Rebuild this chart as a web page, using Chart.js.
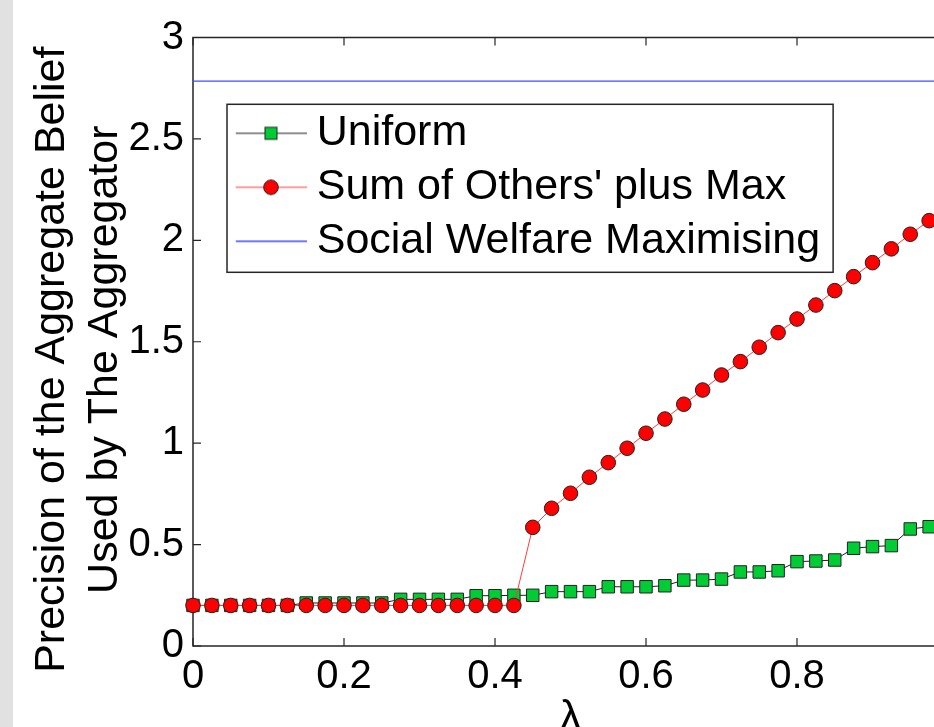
<!DOCTYPE html>
<html>
<head>
<meta charset="utf-8">
<script src="https://cdn.jsdelivr.net/npm/chart.js@4.4.1/dist/chart.umd.min.js"></script>
<style>
html,body{margin:0;padding:0;width:934px;height:727px;overflow:hidden;background:#fff;}
#strip{position:absolute;left:0;top:0;width:13px;height:727px;background:#e1e1e1;}
#wrap{position:absolute;left:13px;top:0;width:947px;height:760px;}
</style>
</head>
<body>
<div id="strip"></div>
<div id="wrap"><canvas id="c" width="947" height="760"></canvas></div>
<script>
// ---------- data ----------
const lambdaValues = [0, 0.025, 0.05, 0.075, 0.1, 0.125, 0.15, 0.175, 0.2, 0.225,
  0.25, 0.275, 0.3, 0.325, 0.35, 0.375, 0.4, 0.425, 0.45, 0.475,
  0.5, 0.525, 0.55, 0.575, 0.6, 0.625, 0.65, 0.675, 0.7, 0.725,
  0.75, 0.775, 0.8, 0.825, 0.85, 0.875, 0.9, 0.925, 0.95, 0.975, 1];
const uniformValues = [0.2, 0.2, 0.2, 0.2, 0.2, 0.2, 0.212, 0.212, 0.212, 0.212,
  0.212, 0.23, 0.23, 0.23, 0.23, 0.248, 0.248, 0.25, 0.25, 0.268,
  0.268, 0.268, 0.292, 0.292, 0.292, 0.297, 0.325, 0.325, 0.33, 0.365,
  0.365, 0.371, 0.416, 0.419, 0.424, 0.482, 0.49, 0.495, 0.577, 0.588, 0.6];
const sumOthersMaxValues = [0.2, 0.2, 0.2, 0.2, 0.2, 0.2, 0.2, 0.2, 0.2, 0.2,
  0.2, 0.2, 0.2, 0.2, 0.2, 0.2, 0.2, 0.2, 0.585, 0.679,
  0.753, 0.832, 0.904, 0.975, 1.049, 1.119, 1.192, 1.262, 1.336, 1.402,
  1.473, 1.545, 1.612, 1.681, 1.752, 1.821, 1.89, 1.958, 2.03, 2.097, 2.165];
const socialWelfareX = [0, 1];
const socialWelfareValues = [2.785, 2.785];
const seriesNames = ['Uniform', "Sum of Others' plus Max", 'Social Welfare Maximising'];
const xTickValues = [0, 0.2, 0.4, 0.6, 0.8, 1];
const xTickLabels = ['0', '0.2', '0.4', '0.6', '0.8', '1'];
const yTickValues = [0, 0.5, 1, 1.5, 2, 2.5, 3];
const yTickLabels = ['0', '0.5', '1', '1.5', '2', '2.5', '3'];
const yTitleLines = ['Precision of the Aggregate Belief', 'Used by The Aggregator'];
const xTitle = 'λ';

// ---------- styles ----------
const FONT = "'Liberation Sans', Arial, Helvetica, sans-serif";
const AXIS_COLOR = '#262626';
const GREEN = '#00cc33', RED = '#ff0000', BLUE = '#3f4dff';
const UNI_LINE = '#1e1e1e', SUM_LINE = '#ff3b3b', MARK_EDGE = '#222222';

Chart.defaults.font.family = FONT;
Chart.defaults.color = '#000';

function makeIcon(kind) {
  const c = document.createElement('canvas');
  c.width = 72; c.height = 20;
  const g = c.getContext('2d');
  g.lineWidth = kind === 'sw' ? 1.3 : 1.1;
  g.strokeStyle = kind === 'uni' ? UNI_LINE : (kind === 'sum' ? SUM_LINE : BLUE);
  g.beginPath(); g.moveTo(0, 10); g.lineTo(72, 10); g.stroke();
  if (kind === 'uni') {
    g.fillStyle = GREEN; g.strokeStyle = MARK_EDGE; g.lineWidth = 1;
    g.fillRect(30, 4, 12, 12); g.strokeRect(30, 4, 12, 12);
  } else if (kind === 'sum') {
    g.fillStyle = RED; g.strokeStyle = MARK_EDGE; g.lineWidth = 1;
    g.beginPath(); g.arc(36, 10, 7.3, 0, Math.PI * 2); g.fill(); g.stroke();
  }
  return c;
}
const legendIcons = [makeIcon('uni'), makeIcon('sum'), makeIcon('sw')];

const LEG_PAD = 11, LEG_FONT = 43, LEG_BOXW = 48.4;

const boxPlugin = {
  id: 'matlabBox',
  beforeDatasetsDraw(chart) {
    const {ctx, chartArea: a, scales: {x, y}} = chart;
    ctx.save();
    ctx.strokeStyle = AXIS_COLOR;
    ctx.lineWidth = 1.2;
    const tl = 8;
    ctx.beginPath();
    x.ticks.forEach(t => {
      const px = x.getPixelForValue(t.value);
      ctx.moveTo(px, a.bottom); ctx.lineTo(px, a.bottom - tl);
      ctx.moveTo(px, a.top); ctx.lineTo(px, a.top + tl);
    });
    y.ticks.forEach(t => {
      const py = y.getPixelForValue(t.value);
      ctx.moveTo(a.left, py); ctx.lineTo(a.left + tl, py);
      ctx.moveTo(a.right, py); ctx.lineTo(a.right - tl, py);
    });
    ctx.stroke();
    ctx.lineWidth = 1.5;
    ctx.strokeRect(a.left, a.top, a.right - a.left, a.bottom - a.top);
    ctx.restore();
  }
};

const legendPlugin = {
  id: 'legendPlace',
  afterLayout(chart) {
    const lg = chart.legend;
    if (!lg) return;
    lg.left = chart.chartArea.left + 42.8;
    lg.top = chart.chartArea.top + 63.3;
  },
  afterDraw(chart) {
    const lg = chart.legend;
    if (!lg) return;
    const ctx = chart.ctx;
    ctx.save();
    ctx.font = LEG_FONT + 'px ' + FONT;
    let maxW = 0;
    seriesNames.forEach(s => { maxW = Math.max(maxW, ctx.measureText(s).width); });
    const textX = lg.left + LEG_PAD + LEG_BOXW + LEG_FONT / 2;
    const bl = lg.left - 8.8, bt = lg.top + 3.5;
    const br = textX + maxW + 13;
    ctx.strokeStyle = AXIS_COLOR;
    ctx.lineWidth = 1.5;
    ctx.strokeRect(bl, bt, br - bl, 168);
    ctx.restore();
  }
};

const toXY = (xs, ys) => xs.map((v, i) => ({x: v, y: ys[i]}));

new Chart(document.getElementById('c'), {
  type: 'line',
  data: {
    datasets: [
      {
        label: seriesNames[0],
        data: toXY(lambdaValues, uniformValues),
        borderColor: UNI_LINE, borderWidth: 1,
        pointStyle: 'rect', pointRadius: 8.8,
        pointBackgroundColor: GREEN, pointBorderColor: MARK_EDGE, pointBorderWidth: 1,
        tension: 0, clip: false, order: 2
      },
      {
        label: seriesNames[1],
        data: toXY(lambdaValues, sumOthersMaxValues),
        borderColor: SUM_LINE, borderWidth: 1,
        pointStyle: 'circle', pointRadius: 7.3,
        pointBackgroundColor: RED, pointBorderColor: MARK_EDGE, pointBorderWidth: 1,
        tension: 0, clip: false, order: 1
      },
      {
        label: seriesNames[2],
        data: toXY(socialWelfareX, socialWelfareValues),
        borderColor: BLUE, borderWidth: 1.2,
        pointRadius: 0, tension: 0, clip: false, order: 3
      }
    ]
  },
  options: {
    responsive: false,
    animation: false,
    devicePixelRatio: 1,
    events: [],
    layout: {padding: {left: 0, top: 37.5, right: 12, bottom: 0}},
    scales: {
      x: {
        type: 'linear', min: 0, max: 1,
        afterBuildTicks: s => { s.ticks = xTickValues.map(v => ({value: v})); },
        afterFit: s => { s.height = 114; s.paddingLeft = 0; s.paddingRight = 0; },
        grid: {display: false, drawTicks: false},
        border: {display: false},
        ticks: {
          autoSkip: false, maxRotation: 0, padding: 7, color: '#000',
          font: {size: 40, lineHeight: 1.2},
          callback: v => xTickLabels[xTickValues.indexOf(v)]
        },
        title: {display: true, text: xTitle, color: '#000',
          font: {size: 43, lineHeight: 1.2}, padding: {top: 0, bottom: 16}}
      },
      y: {
        type: 'linear', min: 0, max: 3,
        afterBuildTicks: s => { s.ticks = yTickValues.map(v => ({value: v})); },
        afterFit: s => { s.width = 180; },
        grid: {display: false, drawTicks: false},
        border: {display: false},
        ticks: {
          autoSkip: false, padding: 9, color: '#000',
          font: {size: 40, lineHeight: 1.2},
          callback: v => yTickLabels[yTickValues.indexOf(v)]
        },
        title: {display: true, text: yTitleLines.map(s => s + '   '), color: '#000',
          font: {size: 43, lineHeight: 53 / 43}, padding: {top: 12.5, bottom: 0}}
      }
    },
    plugins: {
      legend: {
        position: 'chartArea', align: 'start',
        labels: {
          usePointStyle: true, pointStyleWidth: LEG_BOXW, padding: LEG_PAD,
          color: '#000', font: {size: LEG_FONT},
          sort: (a, b) => a.datasetIndex - b.datasetIndex,
          generateLabels: chart => {
            const items = Chart.defaults.plugins.legend.labels.generateLabels(chart);
            items.forEach(it => { it.pointStyle = legendIcons[it.datasetIndex]; });
            return items;
          }
        }
      },
      tooltip: {enabled: false}
    }
  },
  plugins: [boxPlugin, legendPlugin]
});
</script>
</body>
</html>
